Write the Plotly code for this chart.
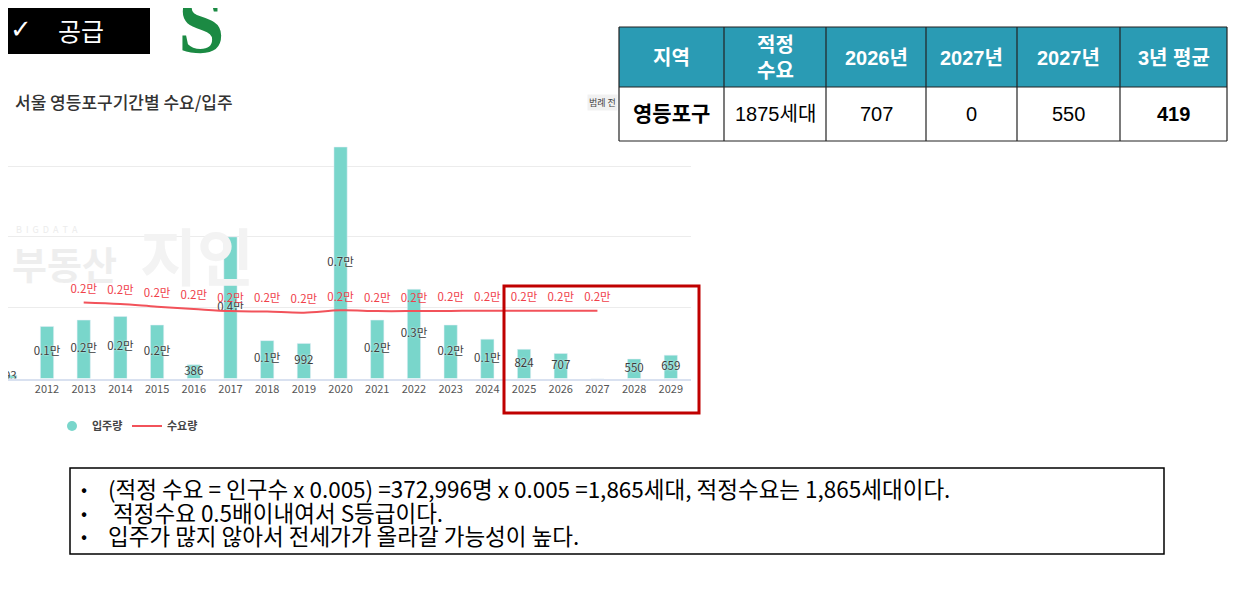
import plotly.graph_objects as go

# canvas size of the slide
W, H = 1240, 591
OFF = 8  # the page body adds an 8px margin around the figure


def px_x(x):
    return (x - OFF) / W


def px_y(y):
    return 1 - (y - OFF) / H


# ---- chart data (서울 영등포구 기간별 수요/입주) ----
years = list(range(2011, 2030))
supply = [93, 1470, 1650, 1750, 1510, 386, 4000, 1070, 992, 6540,
          1650, 2520, 1510, 1110, 824, 707, 0, 550, 659]

demand_years = list(range(2013, 2028))
demand = [2150, 2105, 2030, 1965, 1905, 1890, 1860, 1925,
          1905, 1905, 1910, 1915, 1915, 1915, 1915]

# ---- table data ----
table_header = ["지역", "적정<br>수요", "2026년", "2027년", "2027년", "3년 평균"]
table_row = ["<b>영등포구</b>", "1875세대", "707", "0", "550", "<b>419</b>"]
table_widths = [105, 102, 100, 91, 103, 107]

# ---- notes ----
notes = [
    "(적정 수요 = 인구수 x 0.005) =372,996명 x 0.005 =1,865세대, 적정수요는 1,865세대이다.",
    " 적정수요 0.5배이내여서 S등급이다.",
    "입주가 많지 않아서 전세가가 올라갈 가능성이 높다.",
]


def fmt(v):
    if v == 0:
        return ""
    if v >= 1000:
        return f"{v / 10000:.1f}만"
    return str(v)


KFONT = "Noto Sans CJK KR"
TFONT = "Liberation Sans, Noto Sans CJK KR"
TEAL = "#79d6cb"
RED = "#f2525a"

fig = go.Figure()

# bars (입주량)
fig.add_trace(go.Bar(
    x=years, y=supply, width=0.36, marker_color=TEAL,
    name="입주량", showlegend=False, hoverinfo="x+y",
))

# bar labels, centred inside the bars
fig.add_trace(go.Scatter(
    x=years, y=[v / 2 for v in supply], mode="text",
    text=[fmt(v) for v in supply], showlegend=False, hoverinfo="skip",
    textfont=dict(family=KFONT, size=11.5, color="#3c3c3c",
                  shadow="0px 0px 2px white"),
    cliponaxis=True,
))

# legend marker for 입주량 (circle, as in the original)
fig.add_trace(go.Scatter(
    x=[None], y=[None], mode="markers", name="<b>입주량</b>",
    marker=dict(color=TEAL, size=10, symbol="circle"),
))

# demand line (수요량)
fig.add_trace(go.Scatter(
    x=demand_years, y=demand, mode="lines+markers+text", name="<b>수요량</b>",
    line=dict(color=RED, width=2, shape="spline"),
    marker=dict(size=9, color="rgba(0,0,0,0)"),
    text=[fmt(v) for v in demand], textposition="top center",
    textfont=dict(family=KFONT, size=11.5, color="#f0404a"),
))

fig.update_xaxes(
    domain=[0, px_x(691)], range=[2010.937, 2029.55],
    tickvals=years, ticktext=[str(y) for y in years],
    tickfont=dict(family=KFONT, size=11, color="#555"),
    showgrid=False, showline=True, linecolor="#d9e1f0", linewidth=1.5,
    ticks="", fixedrange=True,
)
fig.update_yaxes(
    domain=[px_y(378.5), px_y(139.6)], range=[0, 6750],
    dtick=2000, showticklabels=False, gridcolor="#ececec",
    zeroline=False, fixedrange=True,
)

shapes = [
    # black header box
    dict(type="rect", xref="paper", yref="paper",
         x0=px_x(0), x1=px_x(150), y0=px_y(54), y1=px_y(4),
         fillcolor="black", line_width=0),
    # red highlight box around 2025-2029
    dict(type="rect", xref="paper", yref="paper",
         x0=px_x(504), x1=px_x(699), y0=px_y(413), y1=px_y(286),
         line=dict(color="#c00000", width=3)),
    # notes box
    dict(type="rect", xref="paper", yref="paper",
         x0=px_x(70), x1=px_x(1164), y0=px_y(554), y1=px_y(468),
         line=dict(color="black", width=1.5)),
]

annotations = [
    dict(text="✓", x=px_x(8), y=px_y(29), font=dict(family="DejaVu Sans", size=26, color="white")),
    dict(text="공급", x=px_x(56), y=px_y(30), font=dict(family=KFONT, size=25, color="white")),
    dict(text="<b>S</b>", x=px_x(176), y=px_y(24),
         font=dict(family="Liberation Serif", size=84, color="#1b8a43")),
    dict(text="서울 영등포구기간별 수요/입주", x=px_x(13), y=px_y(101),
         font=dict(family=KFONT, size=17, color="#333", weight=500)),
    dict(text="범례 전", x=px_x(587), y=px_y(103), bgcolor="#f1f1f1",
         font=dict(family=KFONT, size=9, color="#444")),
    # faint watermark
    dict(text="B  I  G  D  A  T  A", x=px_x(14), y=px_y(229),
         font=dict(family=KFONT, size=9, color="#ececec")),
    dict(text="<b>부동산</b>", x=px_x(10), y=px_y(262),
         font=dict(family=KFONT, size=38, color="#eeeeee")),
    dict(text="<b>지인</b>", x=px_x(138), y=px_y(254),
         font=dict(family=KFONT, size=62, color="#f3f3f3")),
]
for i, line in enumerate(notes):
    annotations.append(dict(text="•", x=px_x(79), y=px_y(488 + 23.5 * i),
                            font=dict(family=KFONT, size=18, color="black")))
    annotations.append(dict(text=line, x=px_x(106), y=px_y(488 + 23.5 * i),
                            font=dict(family=KFONT, size=22.5, color="black")))

for a in annotations:
    a.update(xref="paper", yref="paper", xanchor="left", yanchor="middle",
             showarrow=False)

# summary table, drawn with shapes and centred texts
edges = [619]
for w in table_widths:
    edges.append(edges[-1] + w)
row_top, row_mid, row_bot = 27, 87, 141
shapes.append(dict(type="rect", xref="paper", yref="paper",
                   x0=px_x(edges[0]), x1=px_x(edges[-1]),
                   y0=px_y(row_mid), y1=px_y(row_top),
                   fillcolor="#2a9bb4", line_width=0, layer="below"))
for y in (row_top, row_mid, row_bot):
    shapes.append(dict(type="line", xref="paper", yref="paper",
                       x0=px_x(edges[0]), x1=px_x(edges[-1]), y0=px_y(y), y1=px_y(y),
                       line=dict(color="#222", width=1.2)))
for x in edges:
    shapes.append(dict(type="line", xref="paper", yref="paper",
                       x0=px_x(x), x1=px_x(x), y0=px_y(row_bot), y1=px_y(row_top),
                       line=dict(color="#222", width=1.2)))
for i in range(len(table_widths)):
    cx = (edges[i] + edges[i + 1]) / 2
    annotations.append(dict(
        text=f"<b>{table_header[i]}</b>", x=px_x(cx), y=px_y((row_top + row_mid) / 2 + 1),
        xref="paper", yref="paper", showarrow=False,
        xanchor="center", yanchor="middle",
        font=dict(family=TFONT, size=20, color="white")))
    annotations.append(dict(
        text=table_row[i], x=px_x(cx), y=px_y((row_mid + row_bot) / 2),
        xref="paper", yref="paper", showarrow=False,
        xanchor="center", yanchor="middle",
        font=dict(family=TFONT, size=21 if i == 0 else 20, color="black")))

fig.update_layout(
    width=W, height=H,
    margin=dict(l=0, r=0, t=0, b=0),
    paper_bgcolor="white", plot_bgcolor="white",
    shapes=shapes, annotations=annotations,
    legend=dict(orientation="h", x=px_x(52), y=px_y(426), xanchor="left",
                yanchor="middle", font=dict(family=KFONT, size=11, color="#444"),
                entrywidth=30, entrywidthmode="pixels", bgcolor="rgba(0,0,0,0)"),
)

fig.write_html("out.html")
